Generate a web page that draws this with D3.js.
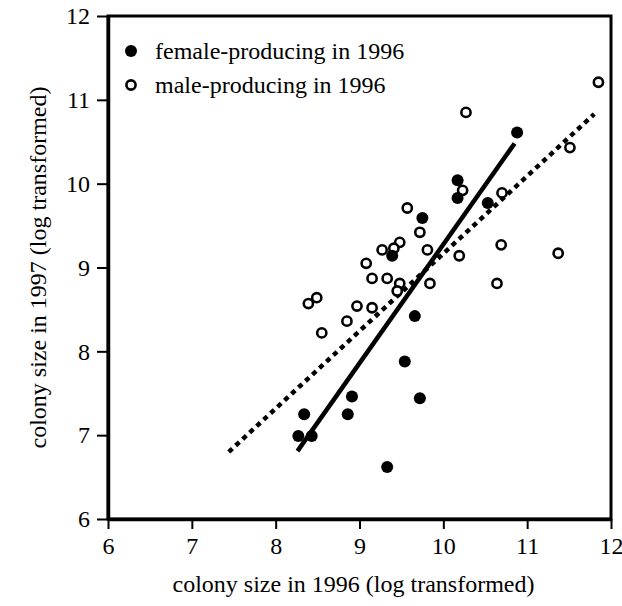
<!DOCTYPE html>
<html>
<head>
<meta charset="utf-8">
<script src="https://cdn.jsdelivr.net/npm/d3@7"></script>
<style>
  body { margin: 0; background: #fff; }
  svg text { font-family: 'Liberation Serif', 'Times New Roman', serif; }
</style>
</head>
<body>
<svg id="chart" width="622" height="606"></svg>
<script>
// female-producing colonies in 1996: [size 1996, size 1997]
const femaleX = [8.27, 8.43, 8.34, 8.86, 8.91, 9.33, 9.54, 9.66, 9.72, 9.39, 9.75, 10.17, 10.17, 10.53, 10.88];
const femaleY = [6.99, 6.99, 7.25, 7.25, 7.46, 6.62, 7.88, 8.42, 7.44, 9.14, 9.59, 10.04, 9.83, 9.77, 10.61];

// male-producing colonies in 1996
const maleX = [11.85, 10.27, 11.51, 10.23, 10.70, 9.57, 9.72, 9.48, 9.41, 9.27, 9.81, 10.19, 10.69, 11.37,
               9.08, 9.15, 9.33, 9.48, 9.45, 9.84, 10.64, 8.49, 8.39, 8.97, 9.15, 8.85, 8.55];
const maleY = [11.21, 10.85, 10.43, 9.92, 9.89, 9.71, 9.42, 9.30, 9.23, 9.21, 9.21, 9.14, 9.27, 9.17,
               9.05, 8.87, 8.87, 8.81, 8.72, 8.81, 8.81, 8.64, 8.57, 8.54, 8.52, 8.36, 8.22];

// fitted regression lines (end points)
const femaleFit = [[8.26, 6.81], [10.85, 10.48]];
const maleFit = [[7.44, 6.80], [11.80, 10.83]];

const xTicks = [6, 7, 8, 9, 10, 11, 12];
const yTicks = [6, 7, 8, 9, 10, 11, 12];

const margin = {top: 16, right: 11, bottom: 87, left: 108};
const width = 622 - margin.left - margin.right;
const height = 606 - margin.top - margin.bottom;

const svg = d3.select("#chart");
const g = svg.append("g").attr("transform", `translate(${margin.left},${margin.top})`);

const x = d3.scaleLinear().domain([6, 12]).range([0, width]);
const y = d3.scaleLinear().domain([6, 12]).range([height, 0]);

// frame
g.append("rect")
    .attr("width", width).attr("height", height)
    .attr("fill", "none").attr("stroke", "#000").attr("stroke-width", 3);

// axes
const xAxis = g.append("g")
    .attr("transform", `translate(0,${height})`)
    .call(d3.axisBottom(x).tickValues(xTicks).tickFormat(d3.format("d"))
        .tickSize(10).tickPadding(8).tickSizeOuter(0));
const yAxis = g.append("g")
    .call(d3.axisLeft(y).tickValues(yTicks).tickFormat(d3.format("d"))
        .tickSize(11).tickPadding(7).tickSizeOuter(0));

[xAxis, yAxis].forEach(a => {
    a.attr("font-family", "'Liberation Serif', 'Times New Roman', serif").attr("font-size", 24);
    a.select(".domain").attr("stroke-width", 3.5);
    a.selectAll(".tick line").attr("stroke-width", 2);
    a.selectAll(".tick text").attr("fill", "#000");
});

// axis titles
svg.append("text")
    .attr("x", margin.left + width / 2 - 6)
    .attr("y", 592)
    .attr("text-anchor", "middle")
    .attr("font-size", 24)
    .text("colony size in 1996 (log transformed)");

svg.append("text")
    .attr("transform", `translate(46,${margin.top + height / 2}) rotate(-90)`)
    .attr("text-anchor", "middle")
    .attr("font-size", 24)
    .text("colony size in 1997 (log transformed)");

// regression lines
const line = d3.line().x(d => x(d[0])).y(d => y(d[1]));

g.append("path")
    .datum(maleFit)
    .attr("d", line)
    .attr("fill", "none")
    .attr("stroke", "#000")
    .attr("stroke-width", 4.5)
    .attr("stroke-dasharray", "5,4.5");

g.append("path")
    .datum(femaleFit)
    .attr("d", line)
    .attr("fill", "none")
    .attr("stroke", "#000")
    .attr("stroke-width", 4.5);

// points
g.append("g")
    .selectAll("circle")
    .data(maleX.map((v, i) => [v, maleY[i]]))
    .join("circle")
    .attr("cx", d => x(d[0]))
    .attr("cy", d => y(d[1]))
    .attr("r", 4.6)
    .attr("fill", "#fff")
    .attr("stroke", "#000")
    .attr("stroke-width", 2.6);

g.append("g")
    .selectAll("circle")
    .data(femaleX.map((v, i) => [v, femaleY[i]]))
    .join("circle")
    .attr("cx", d => x(d[0]))
    .attr("cy", d => y(d[1]))
    .attr("r", 6)
    .attr("fill", "#000");

// legend
const legend = svg.append("g");
legend.append("circle").attr("cx", 131).attr("cy", 51).attr("r", 6).attr("fill", "#000");
legend.append("circle").attr("cx", 131).attr("cy", 85).attr("r", 4.6)
    .attr("fill", "#fff").attr("stroke", "#000").attr("stroke-width", 2.6);
legend.append("text").attr("x", 155).attr("y", 59).attr("font-size", 24)
    .text("female-producing in 1996");
legend.append("text").attr("x", 155).attr("y", 93).attr("font-size", 24)
    .text("male-producing in 1996");
</script>
</body>
</html>
